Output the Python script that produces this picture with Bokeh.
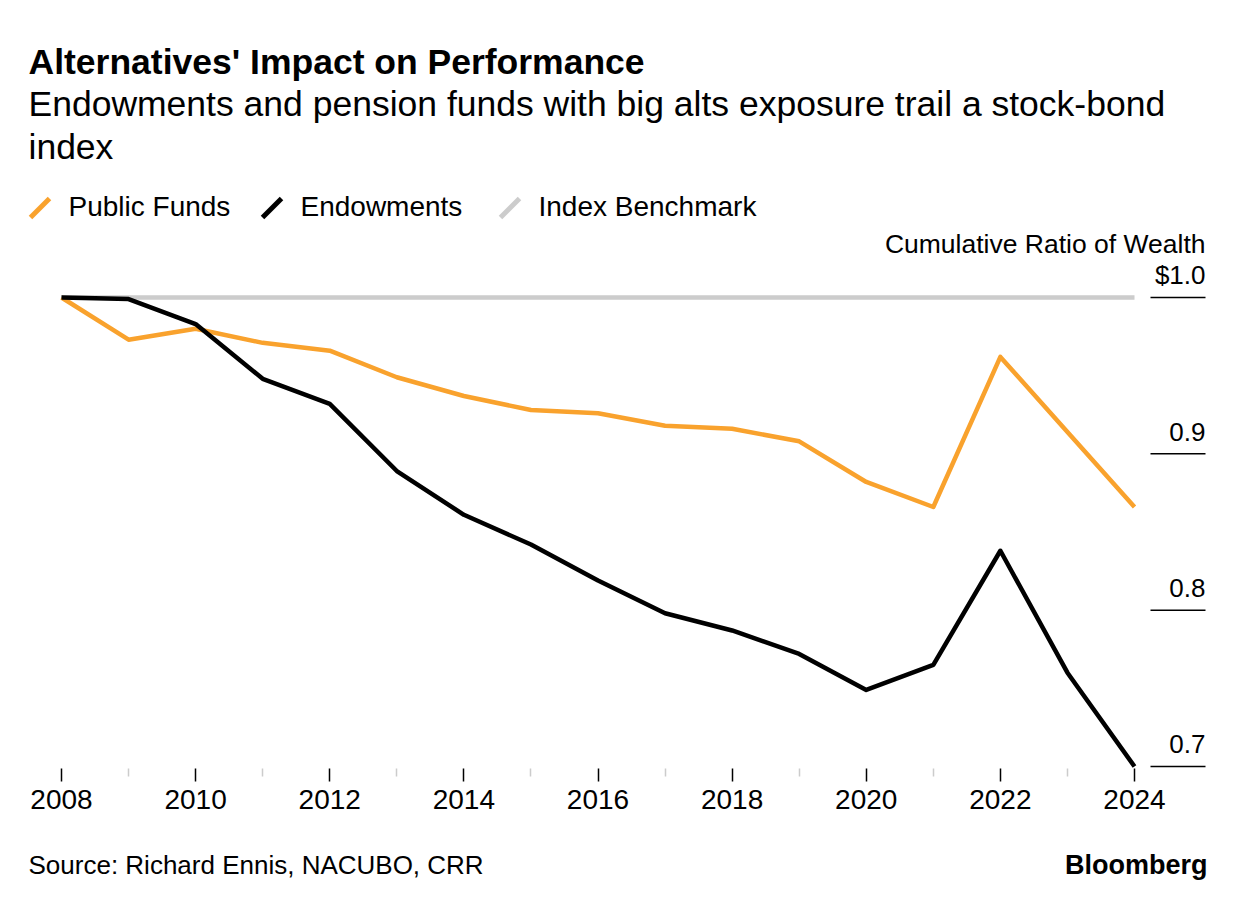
from bokeh.plotting import figure
from bokeh.models import Range1d, FixedTicker
from bokeh.layouts import column
from bokeh.core.properties import value
from bokeh.embed import file_html
from bokeh.resources import INLINE

# ---- data ----
years = list(range(2008, 2025))
public_funds = [1.000, 0.973, 0.980, 0.971, 0.966, 0.949, 0.937, 0.928, 0.926,
                0.918, 0.916, 0.908, 0.882, 0.866, 0.962, 0.914, 0.866]
endowments = [1.000, 0.999, 0.983, 0.948, 0.932, 0.889, 0.861, 0.842, 0.819,
              0.798, 0.787, 0.772, 0.749, 0.765, 0.838, 0.760, 0.700]
index_benchmark = [1.0] * len(years)
y_ticks = [0.7, 0.8, 0.9, 1.0]
y_tick_labels = ["0.7", "0.8", "0.9", "$1.0"]
x_major = list(range(2008, 2025, 2))
x_minor = list(range(2009, 2024, 2))

series_names = ["Public Funds", "Endowments", "Index Benchmark"]
ORANGE = "#F9A22D"
BLACK = "#000000"
GRAY = "#CCCCCC"
FONT = "Liberation Sans"

W = 1235
H_MAIN = 840
H_FOOT = 65
FRAME_BOTTOM = 768
BASE_K = 0.32  # baseline correction, fraction of font size

# layout helpers: page pixel -> data coordinate (for non-data layout items)
PX0, PXY = 61.0, (1134.0 - 61.0) / 16.0
PY1, PYU = 297.0, (766.0 - 297.0) / 0.3


def dx(px):
    return 2008 + (px - PX0) / PXY


def dy(py):
    return 1.0 - (py - PY1) / PYU


def ty(py, size):
    return dy(py - BASE_K * size)


p = figure(width=W, height=H_MAIN, output_backend="svg", toolbar_location=None,
           x_range=Range1d(dx(0), dx(W)), y_range=Range1d(dy(FRAME_BOTTOM), dy(0)),
           y_axis_location=None, min_border_left=0, min_border_right=0,
           min_border_top=0, min_border_bottom=H_MAIN - FRAME_BOTTOM)
p.outline_line_color = None
p.xgrid.visible = False
p.ygrid.visible = False

# ---- series lines ----
p.line(years, index_benchmark, line_color=GRAY, line_width=4.5)
p.line(years, public_funds, line_color=ORANGE, line_width=4.5, line_join="round")
p.line(years, endowments, line_color=BLACK, line_width=4.5, line_join="round")

# ---- x axis ----
ax = p.xaxis[0]
ax.ticker = FixedTicker(ticks=x_major, minor_ticks=x_minor)
ax.axis_line_color = None
ax.major_tick_in = 0
ax.major_tick_out = 13
ax.major_tick_line_color = "black"
ax.major_tick_line_width = 1.5
ax.minor_tick_in = 0
ax.minor_tick_out = 8
ax.minor_tick_line_color = GRAY
ax.minor_tick_line_width = 1.5
ax.major_label_text_font = FONT
ax.major_label_text_font_size = "28px"
ax.major_label_text_color = "black"
ax.major_label_standoff = 8

# ---- right-side value labels with underlines ----
xr = dx(1205)
p.segment(x0=[dx(1150)] * len(y_ticks), y0=y_ticks, x1=[xr] * len(y_ticks), y1=y_ticks,
          line_color="black", line_width=1.5)
p.text(x=[xr] * len(y_ticks), y=y_ticks, text=y_tick_labels, text_align="right",
       text_baseline="alphabetic", y_offset=-14 - BASE_K * 26, text_font=value(FONT),
       text_font_size="26px", text_color="black")
p.text(x=[xr], y=[ty(252, 26.5)], text=["Cumulative Ratio of Wealth"], text_align="right",
       text_baseline="alphabetic", text_font=value(FONT), text_font_size="26.5px",
       text_color="black")

# ---- header ----
p.text(x=[dx(28)], y=[ty(73, 35.5)], text=["Alternatives' Impact on Performance"],
       text_baseline="alphabetic", text_font=value(FONT), text_font_style="bold",
       text_font_size="35.5px", text_color="black")
p.text(x=[dx(28), dx(28)], y=[ty(115, 35.5), ty(158, 35.5)],
       text=["Endowments and pension funds with big alts exposure trail a stock-bond", "index"],
       text_baseline="alphabetic", text_font=value(FONT), text_font_size="35.5px",
       text_color="black")

# ---- legend ----
leg_text_px = [68, 300, 538]
leg_colors = [ORANGE, BLACK, GRAY]
p.segment(x0=[dx(px - 38) for px in leg_text_px], y0=[dy(217)] * 3,
          x1=[dx(px - 19) for px in leg_text_px], y1=[dy(198)] * 3,
          line_color=leg_colors, line_width=5)
p.text(x=[dx(px) for px in leg_text_px], y=[ty(215, 28)] * 3, text=series_names,
       text_baseline="alphabetic", text_font=value(FONT), text_font_size="28px",
       text_color="black")

# ---- footer ----
f = figure(width=W, height=H_FOOT, output_backend="svg", toolbar_location=None,
           x_range=Range1d(0, W), y_range=Range1d(H_FOOT, 0),
           x_axis_location=None, y_axis_location=None, min_border=0)
f.outline_line_color = None
f.xgrid.visible = False
f.ygrid.visible = False
f.text(x=[28], y=[873 - H_MAIN - BASE_K * 26], text=["Source: Richard Ennis, NACUBO, CRR"],
       text_baseline="alphabetic", text_font=value(FONT), text_font_size="26px",
       text_color="black")
f.text(x=[1207], y=[873 - H_MAIN - BASE_K * 27], text=["Bloomberg"], text_align="right",
       text_baseline="alphabetic", text_font=value(FONT), text_font_style="bold",
       text_font_size="27px", text_color="black")

layout = column(p, f, spacing=0)
open("out.html", "w").write(file_html(layout, INLINE))
